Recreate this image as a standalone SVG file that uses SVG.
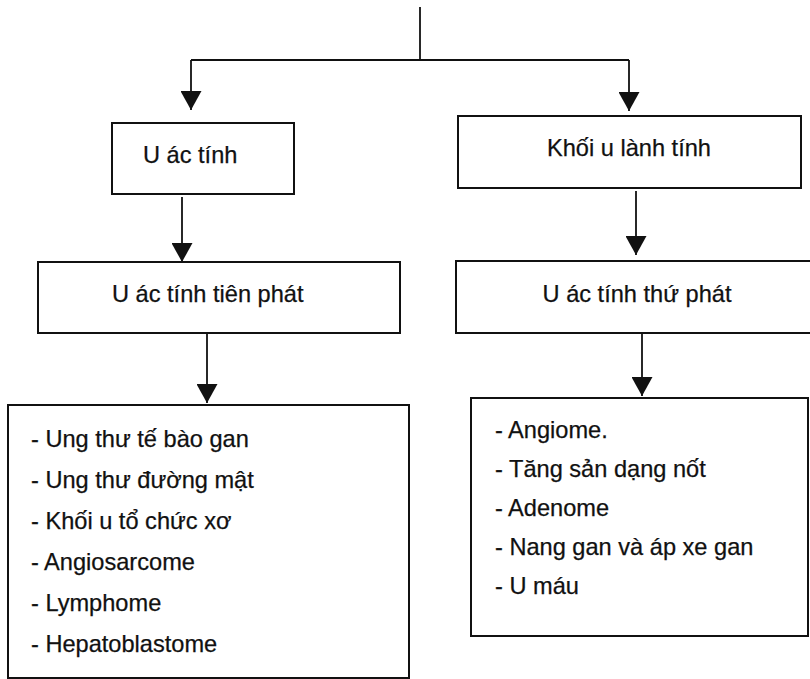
<svg xmlns="http://www.w3.org/2000/svg" width="810" height="679" viewBox="0 0 810 679">
<style>
  .box{fill:#fff;stroke:#111;stroke-width:2}
  .t{font-family:"Liberation Sans",Arial,sans-serif;font-size:23.6px;fill:#111;stroke:#111;stroke-width:0.25}
  .c{stroke:#111;stroke-width:1.8;fill:none}
</style>
<defs>
  <marker id="ah" viewBox="0 0 19 21" refX="19" refY="10.5" markerWidth="19" markerHeight="21" markerUnits="userSpaceOnUse" orient="auto">
    <path d="M0,0 L19,10.5 L0,21 z" fill="#111"/>
  </marker>
</defs>
<rect width="810" height="679" fill="#fff"/>
<g id="connectors">
  <path class="c" d="M420,7 V60"/>
  <path class="c" d="M191,60 H629"/>
  <path class="c" d="M191,60 V110" marker-end="url(#ah)"/>
  <path class="c" d="M629,60 V111" marker-end="url(#ah)"/>
  <path class="c" d="M182,197 V262" marker-end="url(#ah)"/>
  <path class="c" d="M636,191 V255" marker-end="url(#ah)"/>
  <path class="c" d="M207,334 V403" marker-end="url(#ah)"/>
  <path class="c" d="M642,334 V396" marker-end="url(#ah)"/>
</g>
<g id="u-ac-tinh">
  <rect class="box" x="112" y="123" width="182" height="71"/>
  <text class="t" x="143" y="163">U ác tính</text>
</g>
<g id="khoi-u-lanh-tinh">
  <rect class="box" x="458" y="116" width="343" height="72"/>
  <text class="t" x="629" y="156" text-anchor="middle">Khối u lành tính</text>
</g>
<g id="u-ac-tinh-tien-phat">
  <rect class="box" x="38" y="262" width="362" height="71"/>
  <text class="t" x="112" y="302">U ác tính tiên phát</text>
</g>
<g id="u-ac-tinh-thu-phat">
  <rect class="box" x="456" y="261" width="360" height="72"/>
  <text class="t" x="637" y="302" text-anchor="middle">U ác tính thứ phát</text>
</g>
<g id="list-left">
  <rect class="box" x="8" y="405" width="401" height="273"/>
  <text class="t" x="31" y="447">- Ung thư tế bào gan</text>
  <text class="t" x="31" y="488">- Ung thư đường mật</text>
  <text class="t" x="31" y="529">- Khối u tổ chức xơ</text>
  <text class="t" x="31" y="570">- Angiosarcome</text>
  <text class="t" x="31" y="611">- Lymphome</text>
  <text class="t" x="31" y="652">- Hepatoblastome</text>
</g>
<g id="list-right">
  <rect class="box" x="471" y="398" width="337" height="238"/>
  <text class="t" x="495" y="438">- Angiome.</text>
  <text class="t" x="495" y="477">- Tăng sản dạng nốt</text>
  <text class="t" x="495" y="516">- Adenome</text>
  <text class="t" x="495" y="555">- Nang gan và áp xe gan</text>
  <text class="t" x="495" y="594">- U máu</text>
</g>
</svg>
